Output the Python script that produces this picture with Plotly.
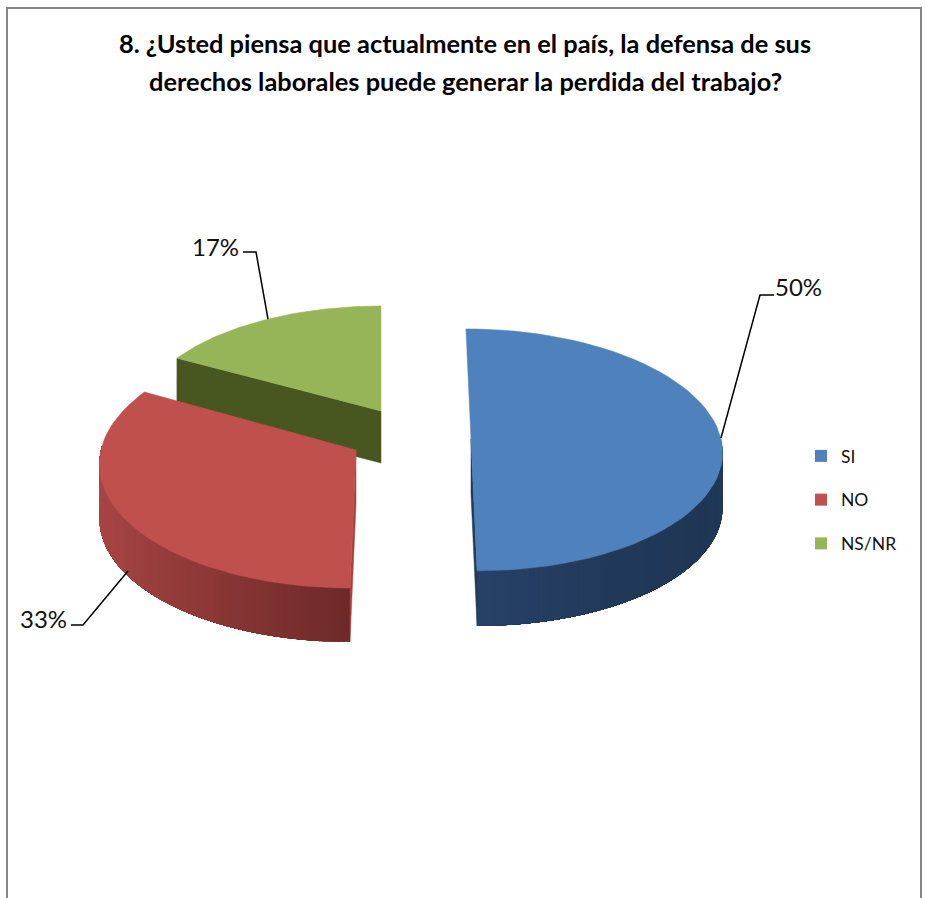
import math
import plotly.graph_objects as go

# ---- data ----
categories = ["SI", "NO", "NS/NR"]
values = [50, 33, 17]
title_lines = ["8. ¿Usted piensa que actualmente en el país, la defensa de sus",
               "derechos laborales puede generar la perdida del trabajo?"]

# ---- style / projection of the 3-D pie (pixels in a 925x898 canvas) ----
top_colors = ["#4f81bd", "#c0504d", "#95b558"]
FONT = "Lato"
P = 0.09
geom = [
    dict(cx=471.0, cy=439.0, rx=250.0, ry=120.0, s=5.5, depth=55),
    dict(cx=356.0, cy=450.0, rx=255.0, ry=125.6, s=-5.5, depth=54),
    dict(cx=381.0, cy=411.0, rx=243.0, ry=114.5, s=0.0, depth=52),
]


def rim(g, deg):
    a = math.radians(deg)
    X, Y = math.sin(a), math.cos(a)
    w = 1 + P * Y
    return g["cx"] + (g["rx"] * X - g["s"] * Y) / w, g["cy"] - g["ry"] * Y / w


def arc(g, a0, a1, n=60):
    pts = [rim(g, a0 + (a1 - a0) * i / n) for i in range(n + 1)]
    return [p[0] for p in pts], [p[1] for p in pts]


def lerp_color(stops, f):
    f = min(max(f, 0.0), 1.0) * (len(stops) - 1)
    j = min(int(f), len(stops) - 2)
    u = f - j
    c0, c1 = stops[j], stops[j + 1]
    return "rgb(%d,%d,%d)" % tuple(round(c0[i] + (c1[i] - c0[i]) * u) for i in range(3))


def poly(xs, ys, color, line=1):
    return go.Scatter(x=xs, y=ys, mode="lines", fill="toself", fillcolor=color,
                      line=dict(color=color, width=line), hoverinfo="skip", showlegend=False)


# slice start/end angles, clockwise from 12 o'clock
total = sum(values)
angles = []
acc = 0.0
for v in values:
    angles.append((acc, acc + 360.0 * v / total))
    acc += 360.0 * v / total

fig = go.Figure()


def top_face(i):
    g = geom[i]
    a0, a1 = angles[i]
    xs, ys = arc(g, a0, a1)
    return poly([g["cx"]] + xs + [g["cx"]], [g["cy"]] + ys + [g["cy"]], top_colors[i], 0.5)


def cut_face(i, deg, color):
    g = geom[i]
    x, y = rim(g, deg)
    d = g["depth"]
    return poly([g["cx"], x, x, g["cx"], g["cx"]],
                [g["cy"], y, y + d, g["cy"] + d, g["cy"]], color, 0.5)


def outer_wall(i, a0, a1, stops, n=90):
    # painted from a1 back to a0, each band reaching to a1 so no seams show
    g = geom[i]
    d = g["depth"]
    for k in range(n):
        t0 = a0 + (a1 - a0) * k / n
        xs, ys = arc(g, t0, a1, 24)
        fig.add_trace(poly(xs + xs[::-1] + [xs[0]],
                           ys + [y + d for y in ys[::-1]] + [ys[0]],
                           lerp_color(stops, k / (n - 1)), 0))


# green (back): inner cut face then top
fig.add_trace(cut_face(2, angles[2][0], "#47571f"))
fig.add_trace(top_face(2))
# red: outer wall shaded, inner cut, top
fig.add_trace(cut_face(1, angles[1][0], "#a8423f"))
outer_wall(1, angles[1][0], angles[1][0] + 92,
           [(0x6e, 0x2a, 0x29), (0x8c, 0x38, 0x36), (0xa3, 0x43, 0x41), (0xaa, 0x47, 0x44)])
fig.add_trace(top_face(1))
# blue: outer wall shaded, inner cut, top
fig.add_trace(cut_face(0, angles[0][1], "#1f3a5c"))
outer_wall(0, 90, angles[0][1],
           [(0x1f, 0x3a, 0x5f), (0x1f, 0x37, 0x54), (0x21, 0x39, 0x59), (0x27, 0x40, 0x68)])
fig.add_trace(top_face(0))

# leader lines
leaders = [
    ([721, 760, 774], [438, 295, 295]),
    ([128, 83, 71], [571, 625, 625]),
    ([268, 256, 243], [319, 252, 252]),
]
for lx, ly in leaders:
    fig.add_trace(go.Scatter(x=lx, y=ly, mode="lines", line=dict(color="#000000", width=1.5),
                             hoverinfo="skip", showlegend=False))

# native legend entries
for i, name in enumerate(categories):
    fig.add_trace(go.Scatter(x=[None], y=[None], mode="markers", name=name, legendgroup=name,
                             marker=dict(symbol="square", size=12, color=top_colors[i])))

label_pos = [(798, 286), (43, 618), (215, 246)]
annotations = [
    dict(x=x, y=y, xref="x", yref="y", text=f"{v}%", showarrow=False,
         font=dict(family=FONT, size=24, color="#111111"), xanchor="center", yanchor="middle")
    for v, (x, y) in zip(values, label_pos)
]
annotations.append(dict(x=465, y=81, xref="x", yref="y", text=title_lines[1], showarrow=False,
                        font=dict(family=FONT, size=25.4, color="#000000", weight="bold"),
                        xanchor="center", yanchor="middle"))

fig.update_layout(
    width=925, height=898, margin=dict(l=0, r=0, t=0, b=0),
    paper_bgcolor="white", plot_bgcolor="white",
    title=dict(text=title_lines[0], x=465 / 925, xanchor="center", y=1 - 44 / 898, yanchor="middle",
               font=dict(family=FONT, size=25.4, color="#000000", weight="bold")),
    xaxis=dict(range=[0, 925], visible=False, fixedrange=True),
    yaxis=dict(range=[898, 0], visible=False, fixedrange=True),
    legend=dict(x=801 / 925, y=1 - 438 / 898, xanchor="left", yanchor="top",
                tracegroupgap=18, font=dict(family=FONT, size=17.5, color="#111111"),
                bgcolor="rgba(0,0,0,0)"),
    annotations=annotations,
    shapes=[dict(type="rect", xref="x", yref="y", x0=7, y0=8, x1=921, y1=930,
                 line=dict(color="#868686", width=2), layer="below")],
)

fig.write_html("out.html", post_script="document.body.style.margin='0';document.body.style.overflow='hidden';",
               config=dict(displayModeBar=False))
